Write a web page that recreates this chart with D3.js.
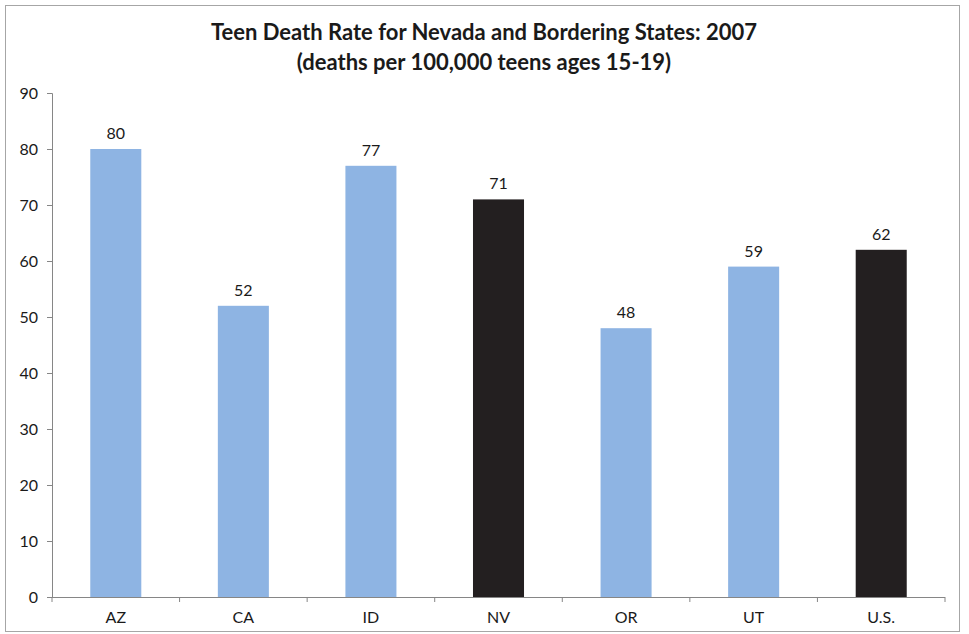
<!DOCTYPE html>
<html>
<head>
<meta charset="utf-8">
<script src="https://cdn.jsdelivr.net/npm/d3@7"></script>
<style>
  html, body { margin: 0; padding: 0; background: #fff; }
  svg { display: block; }
</style>
</head>
<body>
<svg id="chart" width="969" height="634"></svg>
<script>
const categories = ["AZ", "CA", "ID", "NV", "OR", "UT", "U.S."];
const values = [80, 52, 77, 71, 48, 59, 62];
const highlighted = ["NV", "U.S."];
const yTicks = [0, 10, 20, 30, 40, 50, 60, 70, 80, 90];
const titleLines = ["Teen Death Rate for Nevada and Bordering States: 2007", "(deaths per 100,000 teens ages 15-19)"];

const svg = d3.select("#chart");
const x0 = 52, x1 = 945, yTop = 93, yBot = 597;
const font = "Lato, 'Open Sans', sans-serif";

// outer border
svg.append("rect").attr("x", 5.5).attr("y", 5.5).attr("width", 954).attr("height", 626)
  .attr("fill", "#fff").attr("stroke", "#a6a6a6").attr("stroke-width", 1);

const x = d3.scaleBand().domain(categories).range([x0, x1]).paddingInner(0.6).paddingOuter(0.3);
const y = d3.scaleLinear().domain([0, 90]).range([yBot, yTop]);

// title
svg.append("g").selectAll("text").data(titleLines).join("text")
  .attr("x", 484).attr("y", (d, i) => 40 + i * 30)
  .attr("text-anchor", "middle")
  .attr("font-family", font)
  .attr("font-weight", "bold").attr("font-size", 22).attr("fill", "#1a1a1a")
  .text(d => d);

// bars
svg.append("g").selectAll("rect").data(categories).join("rect")
  .attr("x", d => x(d)).attr("width", x.bandwidth())
  .attr("y", (d, i) => y(values[i])).attr("height", (d, i) => y(0) - y(values[i]))
  .attr("fill", d => highlighted.includes(d) ? "#231f20" : "#8eb4e3");

// value labels
svg.append("g").selectAll("text").data(categories).join("text")
  .attr("x", d => x(d) + x.bandwidth() / 2)
  .attr("y", (d, i) => y(values[i]) - 10)
  .attr("text-anchor", "middle")
  .attr("font-family", font)
  .attr("font-size", 16).attr("fill", "#1a1a1a")
  .text((d, i) => values[i]);

// y axis
const yAxis = d3.axisLeft(y).tickValues(yTicks).tickSize(5).tickPadding(9);
const gy = svg.append("g").attr("transform", `translate(${x0},0)`).call(yAxis);
gy.select(".domain").attr("stroke", "#868686");
gy.selectAll(".tick line").attr("stroke", "#868686");
gy.selectAll(".tick text").attr("font-family", font)
  .attr("font-size", 16).attr("fill", "#1a1a1a");

// x axis
const xAxis = d3.axisBottom(x).tickSize(0).tickPadding(15);
const gx = svg.append("g").attr("transform", `translate(0,${yBot})`).call(xAxis);
gx.select(".domain").attr("stroke", "#868686").attr("d", `M${x0},0.5H${x1}`);
gx.selectAll(".tick text").attr("font-family", font)
  .attr("font-size", 16).attr("fill", "#1a1a1a");
// category boundary ticks
const boundaries = d3.range(categories.length + 1).map(i => x0 + i * (x1 - x0) / categories.length);
svg.append("g").selectAll("line").data(boundaries).join("line")
  .attr("x1", d => d).attr("x2", d => d)
  .attr("y1", yBot).attr("y2", yBot + 5)
  .attr("stroke", "#868686");
</script>
</body>
</html>
